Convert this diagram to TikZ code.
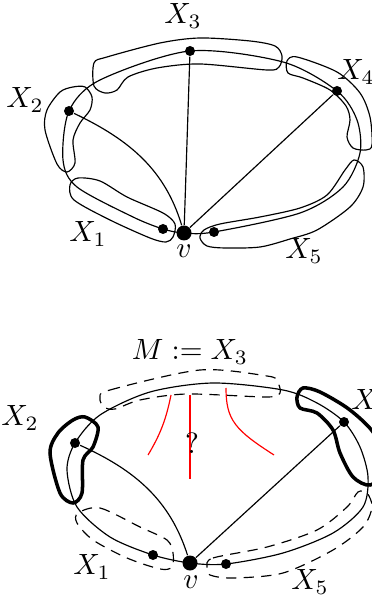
\documentclass[tikz,border=0pt]{standalone}
\usepackage{amsmath,amssymb}
\usetikzlibrary{positioning}
\begin{document}
\begin{tikzpicture}[
    x=0.012cm,y=-0.012cm,
    vx/.style={circle,fill=black,inner sep=0pt,minimum size=1.2mm},
    root/.style={circle,fill=black,inner sep=0pt,minimum size=1.8mm},
    lbl/.style={inner sep=1pt},
    mblob/.style={dash pattern={on 3.5pt off 2.5pt}},
    hblob/.style={line width=1.2pt},
    cut/.style={red},
  ]
  \useasboundingbox (0,0) rectangle (372,599);
  % Upper picture: the bag X_1..X_5 round v
  \node[root] (v) at (184,233) {};
  \node[vx] (a1) at (163,229) {};
  \node[vx] (a2) at (69,111) {};
  \node[vx] (a3) at (190,51) {};
  \node[vx] (a4) at (337,91) {};
  \node[vx] (a5) at (214,232) {};
  \draw plot[smooth cycle] coordinates {(v.center) (a1.center) (133,217) (77,187) (63,160)
    (a2.center) (100,80) (a3.center) (283,62) (a4.center) (357,120) (360,153) (343,187)
    (300,213) (a5.center)};
  \draw (a3) -- (v);
  \draw (a4) -- (v);
  \draw (a2) .. controls (130,140) and (165,170) .. (v);
  % blobs
  \draw plot[smooth cycle] coordinates {(94,63) (107,57) (160,43) (200,38) (250,41) (275,46)
    (282,56) (279,67) (267,70) (200,64) (157,68) (128,77) (117,90) (105,93) (94,86)};
  \draw plot[smooth cycle] coordinates {(85,87) (92,97) (90,110) (80,123) (73,140) (75,163)
    (67,172) (57,164) (45,130) (47,110) (60,92) (73,87)};
  \draw plot[smooth cycle] coordinates {(287,61) (297,57) (337,72) (360,93) (370,117) (372,145)
    (366,150) (353,148) (347,137) (350,120) (346,106) (330,90) (303,78) (288,73)};
  \draw plot[smooth cycle] coordinates {(70,185) (78,178) (100,181) (127,197) (163,213) (175,224)
    (173,237) (166,242) (150,238) (110,220) (74,200)};
  \draw plot[smooth cycle] coordinates {(200,238) (204,230) (220,224) (260,217) (300,208) (327,195)
    (345,170) (354,160) (363,167) (363,187) (350,207) (317,230) (290,239) (260,247) (225,248)
    (207,246)};
  \node[lbl] (l3) at (183,16) {$X_3$};
  \node[lbl] (l2) at (25,100) {$X_2$};
  \node[lbl] (l4) at (356,72) {$X_4$};
  \node[lbl] (l1) at (88,234) {$X_1$};
  \node[lbl] (l5) at (304,251) {$X_5$};
  \node[lbl] (lv) at (184,251) {$v$};
  % Lower picture: M := X_3 with the cut
  \node[root] (w) at (190,563) {};
  \node[vx] (b1) at (153,555) {};
  \node[vx] (b2) at (75,443) {};
  \node[vx] (b4) at (344,422) {};
  \node[vx] (b5) at (226,564) {};
  \draw plot[smooth cycle] coordinates {(w.center) (b1.center) (110,537) (77,507) (67,470)
    (b2.center) (100,415) (150,392) (213,383) (283,390) (317,403) (b4.center) (360,447)
    (368,477) (363,507) (333,533) (283,553) (b5.center)};
  \draw (b4) -- (w);
  \draw (b2) .. controls (135,470) and (170,500) .. (w);
  % blobs
  \draw[mblob] plot[smooth cycle] coordinates {(100,398) (110,390) (200,370) (267,376) (277,381)
    (280,393) (267,397) (187,394) (140,400) (115,409) (104,407)};
  \draw[hblob] plot[smooth cycle] coordinates {(85,417) (98,427) (93,447) (83,460) (82,493)
    (73,503) (60,493) (50,453) (58,433) (73,420)};
  \draw[hblob] plot[smooth cycle] coordinates {(297,397) (303,388) (320,392) (350,410) (375,435)
    (385,470) (370,485) (353,477) (340,453) (333,430) (317,413) (300,408)};
  \draw[mblob] plot[smooth cycle] coordinates {(78,513) (100,508) (140,527) (167,540) (173,553)
    (172,567) (160,569) (127,558) (93,540) (77,523)};
  \draw[mblob] plot[smooth cycle] coordinates {(207,567) (213,558) (267,547) (317,530) (347,507)
    (358,492) (367,493) (372,507) (363,527) (333,550) (283,573) (233,578) (210,575)};
  % the cut inside
  \draw[cut] (190,395) -- (190,479);
  \draw[cut] (171,395) .. controls (166,420) and (160,435) .. (148,455);
  \draw[cut] (226,388) .. controls (226,420) and (235,430) .. (274,455);
  \node[lbl] (q) at (192,443) {?};
  \node[lbl] (lm) at (190,352) {$M := X_3$};
  \node[lbl] (k2) at (20,418) {$X_2$};
  \node[lbl] (k4) at (370,402) {$X_4$};
  \node[lbl] (k1) at (92,567) {$X_1$};
  \node[lbl] (k5) at (310,582) {$X_5$};
  \node[lbl] (kv) at (191,582) {$v$};
\end{tikzpicture}
\end{document}
